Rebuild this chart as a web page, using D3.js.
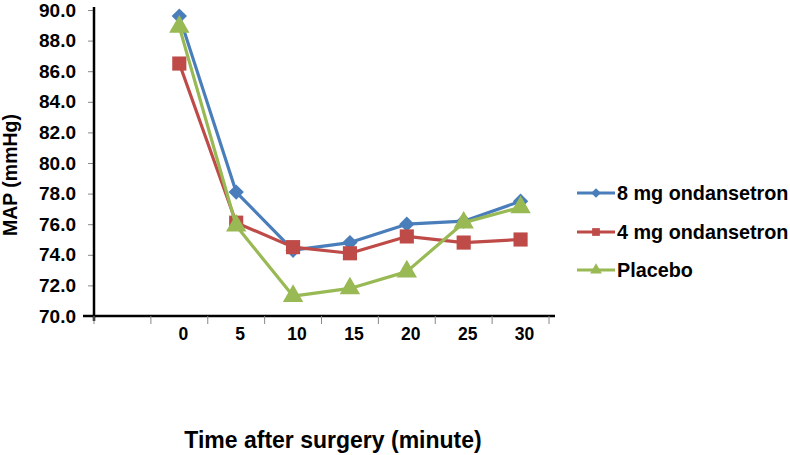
<!DOCTYPE html>
<html>
<head>
<meta charset="utf-8">
<script src="https://cdn.jsdelivr.net/npm/d3@7"></script>
<style>
  html, body { margin: 0; padding: 0; background: #ffffff; }
  svg { display: block; font-family: Arial, "Liberation Sans", sans-serif; font-weight: bold; }
</style>
</head>
<body>
<svg id="chart" width="790" height="455"></svg>
<script>
const categories = ["", "0", "5", "10", "15", "20", "25", "30"];
const times = ["0", "5", "10", "15", "20", "25", "30"];
const seriesNames = ["8 mg ondansetron", "4 mg ondansetron", "Placebo"];
const mg8 = [89.6, 78.1, 74.3, 74.8, 76.0, 76.2, 77.5];
const mg4 = [86.5, 76.1, 74.5, 74.1, 75.2, 74.8, 75.0];
const placebo = [88.9, 75.9, 71.3, 71.8, 72.9, 76.1, 77.1];
const yTicks = [70, 72, 74, 76, 78, 80, 82, 84, 86, 88, 90];
const colors = ["#4a7ebb", "#be4b48", "#98b954"];
const shapes = [d3.symbolDiamond2, d3.symbolSquare, d3.symbolTriangle];

const svg = d3.select("#chart");
const x = d3.scaleBand().domain(categories).range([94, 549]);
const y = d3.scaleLinear().domain([70, 90]).range([316, 10]);

// Y axis
const yAxis = svg.append("g").attr("transform", "translate(94,0)")
  .call(d3.axisLeft(y).tickValues(yTicks).tickFormat(d3.format(".1f")).tickSize(6).tickPadding(12));
yAxis.select(".domain").remove();
yAxis.selectAll(".tick line").attr("stroke", "#888").attr("stroke-width", 1);
yAxis.selectAll(".tick text").attr("font-size", 19).attr("font-weight", "bold").attr("fill", "#000")
  .attr("font-family", "Arial, 'Liberation Sans', sans-serif");
svg.append("line").attr("x1", 94).attr("x2", 94).attr("y1", 7).attr("y2", 321)
  .attr("stroke", "#000").attr("stroke-width", 2.5);

// X axis
const xAxis = svg.append("g").attr("transform", "translate(0,316)")
  .call(d3.axisBottom(x).tickSize(0).tickPadding(12));
xAxis.select(".domain").remove();
xAxis.selectAll(".tick text").attr("font-size", 17.5).attr("font-weight", "bold").attr("fill", "#000")
  .attr("dx", 4).attr("font-family", "Arial, 'Liberation Sans', sans-serif");
svg.append("line").attr("x1", 83).attr("x2", 555).attr("y1", 316).attr("y2", 316)
  .attr("stroke", "#000").attr("stroke-width", 2.5);
const bounds = categories.map(c => x(c)).concat([x.range()[1]]);
svg.append("g").selectAll("line").data(bounds).join("line")
  .attr("x1", d => d).attr("x2", d => d).attr("y1", 316).attr("y2", 324)
  .attr("stroke", "#888").attr("stroke-width", 1);

// Axis titles
svg.append("text").attr("transform", "translate(17,175) rotate(-90)")
  .attr("text-anchor", "middle").attr("font-size", 19.5).text("MAP (mmHg)");
svg.append("text").attr("x", 333).attr("y", 448)
  .attr("text-anchor", "middle").attr("font-size", 23).text("Time after surgery (minute)");

// Series
const allSeries = [mg8, mg4, placebo];
const line = d3.line().x((d, i) => x(times[i]) + x.bandwidth() / 2).y(d => y(d));
const markerSizes = [150, 200, 180];
allSeries.forEach((vals, si) => {
  svg.append("path").datum(vals).attr("d", line)
    .attr("fill", "none").attr("stroke", colors[si]).attr("stroke-width", 3.2).attr("stroke-linejoin", "round");
  svg.append("g").selectAll("path").data(vals).join("path")
    .attr("transform", (d, i) => `translate(${x(times[i]) + x.bandwidth() / 2},${y(d)})`)
    .attr("d", d3.symbol().type(shapes[si]).size(markerSizes[si]))
    .attr("fill", colors[si]);
});

// Legend
const legendY = [193, 232, 270];
const legendSizes = [60, 60, 60];
const lg = svg.append("g");
seriesNames.forEach((name, i) => {
  lg.append("line").attr("x1", 577).attr("x2", 615).attr("y1", legendY[i]).attr("y2", legendY[i])
    .attr("stroke", colors[i]).attr("stroke-width", 3);
  lg.append("path").attr("transform", `translate(596,${legendY[i]})`)
    .attr("d", d3.symbol().type(shapes[i]).size(legendSizes[i])).attr("fill", colors[i]);
  lg.append("text").attr("x", 617).attr("y", legendY[i]).attr("dy", "0.36em")
    .attr("font-size", 19.8).text(name);
});
</script>
</body>
</html>
